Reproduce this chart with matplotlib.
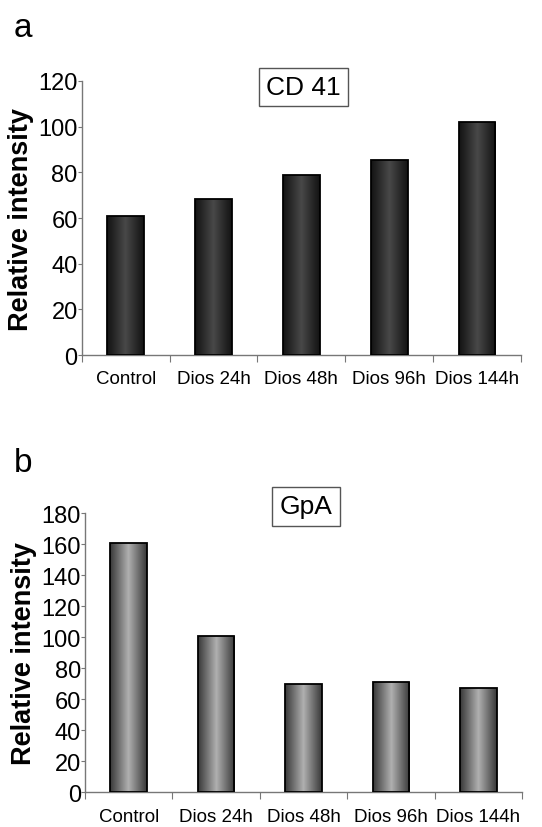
import numpy as np
import matplotlib
matplotlib.use("Agg")
import matplotlib.pyplot as plt
from matplotlib.colors import LinearSegmentedColormap

plt.rcParams['font.family'] = ['Liberation Sans', 'DejaVu Sans']

categories = ["Control", "Dios 24h", "Dios 48h", "Dios 96h", "Dios 144h"]
cd41_values = [61, 68.5, 79, 85.5, 102]
gpa_values = [161, 101, 70, 71, 67.5]

fig = plt.figure(figsize=(5.42, 8.28), dpi=100)
ax_a = fig.add_axes([0.151, 0.570, 0.810, 0.331])
ax_b = fig.add_axes([0.157, 0.042, 0.806, 0.337])

cmap_a = LinearSegmentedColormap.from_list("a", ["#121212", "#484848", "#121212"])
cmap_b = LinearSegmentedColormap.from_list("b", ["#383838", "#b0b0b0", "#383838"])


def draw(ax, values, ymax, title, cmap, title_y):
    x = np.arange(len(categories))
    bars = ax.bar(x, values, width=0.42, color="none", edgecolor="black",
                  linewidth=1.3, zorder=3)
    grad = np.linspace(0, 1, 256).reshape(1, -1)
    for b in bars:
        x0, y0 = b.get_x(), b.get_y()
        w, h = b.get_width(), b.get_height()
        im = ax.imshow(grad, cmap=cmap, aspect="auto",
                       extent=[x0, x0 + w, y0, y0 + h], zorder=2)
        im.set_clip_path(b)
    ax.set_xlim(-0.5, len(categories) - 0.5)
    ax.set_ylim(0, ymax)
    ax.set_yticks(np.arange(0, ymax + 1, 20))
    ax.tick_params(axis="y", labelsize=17, length=3, color="#777777", pad=0)
    ax.set_xticks(np.arange(-0.5, len(categories), 1.0))
    ax.set_xticklabels([])
    ax.set_xticks(x, minor=True)
    ax.set_xticklabels(categories, minor=True, fontsize=13.5)
    ax.tick_params(axis="x", which="major", length=5, color="#777777")
    ax.tick_params(axis="x", which="minor", length=0, pad=11)
    for s in ["top", "right"]:
        ax.spines[s].set_visible(False)
    for s in ["left", "bottom"]:
        ax.spines[s].set_color("#777777")
        ax.spines[s].set_linewidth(1.0)
    ax.set_ylabel("Relative intensity", fontsize=19.5, fontweight="bold", labelpad=3)
    ax.text(0.505, title_y, title, transform=ax.transAxes, ha="center", va="center",
            fontsize=19,
            bbox=dict(boxstyle="square,pad=0.28", facecolor="white",
                      edgecolor="#555555", linewidth=1.0), zorder=5)


draw(ax_a, cd41_values, 120, "CD 41", cmap_a, 0.978)
draw(ax_b, gpa_values, 180, "GpA", cmap_b, 1.025)

fig.text(0.026, 0.966, "a", fontsize=24, va="center", ha="left")
fig.text(0.026, 0.440, "b", fontsize=24, va="center", ha="left")

fig.savefig("out.png", dpi=100)
